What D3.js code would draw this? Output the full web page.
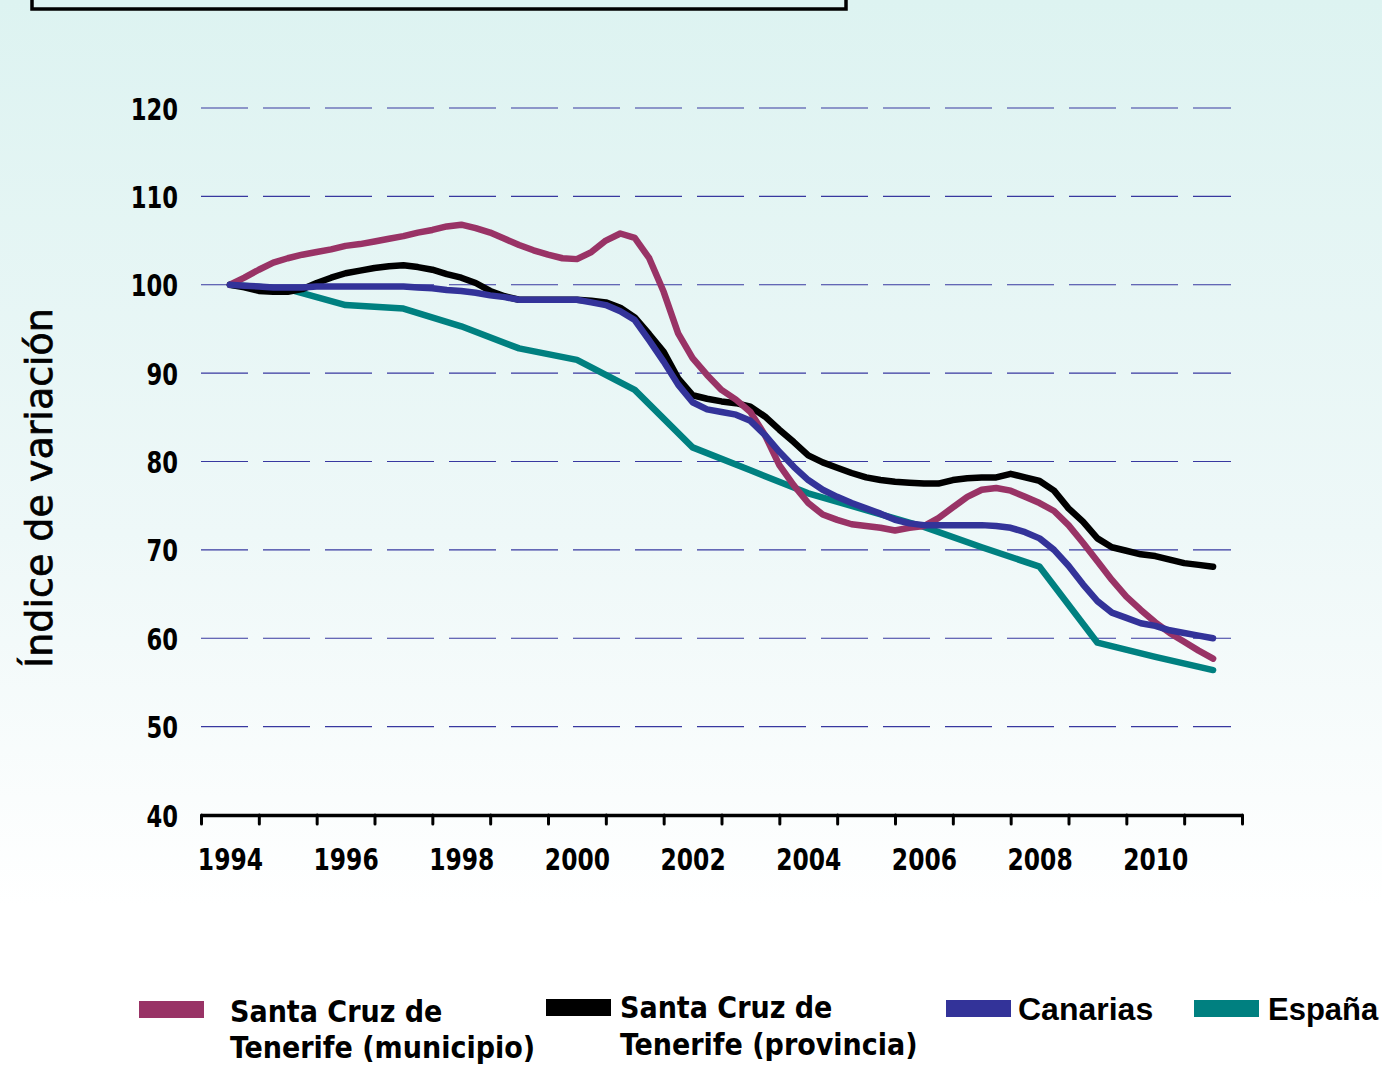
<!DOCTYPE html>
<html>
<head>
<meta charset="utf-8">
<script src="https://cdn.jsdelivr.net/npm/d3@7"></script>
<style>
  html, body { margin: 0; padding: 0; background: #ffffff; }
  svg { display: block; }
</style>
</head>
<body>
<svg id="chart" width="1382" height="1066"></svg>
<script>
// ---- data ----
const quarterStart = 1994;          // quarterly series, first point 1994.0
const municipio = [100,100.8,101.7,102.5,103.0,103.4,103.7,104.0,104.4,104.6,104.9,105.2,105.5,105.9,106.2,106.6,106.8,
  106.4,105.9,105.2,104.5,103.9,103.4,103.0,102.9,103.7,105.0,105.8,105.3,103.0,99.2,94.5,91.7,89.8,88.1,87.0,85.6,
  83.0,79.6,77.3,75.3,74.0,73.4,72.9,72.7,72.5,72.2,72.5,72.7,73.6,74.8,76.0,76.8,77.0,76.7,76.0,75.3,74.4,72.8,
  70.8,68.7,66.6,64.7,63.2,61.8,60.6,59.6,58.6,57.7];
const provincia = [100,99.7,99.3,99.2,99.2,99.5,100.2,100.8,101.3,101.6,101.9,102.1,102.2,102.0,101.7,101.2,100.8,
  100.2,99.3,98.7,98.3,98.3,98.3,98.3,98.3,98.2,98.0,97.4,96.3,94.4,92.4,89.4,87.5,87.1,86.8,86.6,86.2,
  85.1,83.6,82.2,80.7,79.9,79.3,78.7,78.2,77.9,77.7,77.6,77.5,77.5,77.9,78.1,78.2,78.2,78.6,78.2,77.8,76.7,74.7,
  73.2,71.3,70.3,69.9,69.5,69.3,68.9,68.5,68.3,68.1];
const canarias = [100,99.9,99.8,99.7,99.7,99.7,99.8,99.8,99.8,99.8,99.8,99.8,99.8,99.7,99.6,99.4,99.3,
  99.1,98.8,98.6,98.3,98.3,98.3,98.3,98.3,98.0,97.7,97.0,96.0,93.7,91.3,88.7,86.7,85.9,85.6,85.3,84.6,
  83.0,81.1,79.4,77.9,76.8,76.0,75.3,74.7,74.1,73.4,73.0,72.8,72.8,72.8,72.8,72.8,72.7,72.5,72.0,71.3,70.0,68.2,
  66.1,64.2,62.9,62.3,61.7,61.4,60.9,60.6,60.3,60.0];
const years = [1994,1995,1996,1997,1998,1999,2000,2001,2002,2003,2004,2005,2006,2007,2008,2009,2010,2011];
const espana = [100,99.5,97.7,97.3,95.3,92.8,91.5,88.1,81.6,79.0,76.4,74.5,72.6,70.3,68.1,59.5,57.9,56.4];

const xTickLabels = ["1994","1996","1998","2000","2002","2004","2006","2008","2010"];
const yTicks = [40,50,60,70,80,90,100,110,120];
const seriesNames = ["Santa Cruz de\nTenerife (municipio)", "Santa Cruz de\nTenerife (provincia)", "Canarias", "España"];
const seriesColors = ["#993366", "#000000", "#333399", "#008080"];

// ---- setup ----
const svg = d3.select("#chart");
const defs = svg.append("defs");
const grad = defs.append("linearGradient").attr("id", "bg").attr("x1", 0).attr("y1", 0).attr("x2", 0).attr("y2", 1);
grad.append("stop").attr("offset", "0%").attr("stop-color", "#ddf3f1");
grad.append("stop").attr("offset", "50%").attr("stop-color", "#eef8f8");
grad.append("stop").attr("offset", "85%").attr("stop-color", "#ffffff");
grad.append("stop").attr("offset", "100%").attr("stop-color", "#ffffff");
svg.append("rect").attr("width", 1382).attr("height", 1066).attr("fill", "url(#bg)");

// partial frame at top
svg.append("rect").attr("x", 32).attr("y", -40).attr("width", 814).attr("height", 49)
  .attr("fill", "none").attr("stroke", "#000").attr("stroke-width", 3.5);

const x = d3.scaleLinear().domain([1993.5, 2011.5]).range([201, 1242]);
const y = d3.scaleLinear().domain([40, 120]).range([815, 108]);

const numFont = "'DejaVu Sans Condensed','DejaVu Sans',sans-serif";
const SX = 0.84; // horizontal squeeze of the narrow lettering

// gridlines
svg.append("g").selectAll("line").data(yTicks.filter(d => d > 40)).join("line")
  .attr("x1", 201).attr("x2", 1231)
  .attr("y1", d => y(d)).attr("y2", d => y(d))
  .attr("stroke", "#3838a0").attr("stroke-width", 1.1)
  .attr("stroke-dasharray", "47,15");

// y labels (anchored at x = 178)
const yAxis = svg.append("g").attr("transform", "translate(178,0)")
  .call(d3.axisLeft(y).tickValues(yTicks).tickSize(0).tickPadding(0).tickFormat(d3.format("d")));
yAxis.select(".domain").remove();
yAxis.selectAll("text").attr("x", 0).attr("font-family", numFont).attr("font-weight", "bold")
  .attr("font-size", 30).attr("fill", "#000").attr("dy", "0.37em")
  .attr("transform", `scale(${SX},1)`);

// x axis line + ticks
const xAxis = svg.append("g").attr("transform", "translate(0,815)")
  .call(d3.axisBottom(x).tickValues(d3.range(1993.5, 2012, 1)).tickFormat("").tickSizeInner(9).tickSizeOuter(0));
xAxis.select(".domain").attr("stroke", "#000").attr("stroke-width", 3.5);
xAxis.selectAll(".tick line").attr("stroke", "#000").attr("stroke-width", 3).attr("stroke-linecap", "round");

// x labels
const xLab = svg.append("g").attr("transform", "translate(0,815)")
  .call(d3.axisBottom(x).tickValues(xTickLabels.map(Number)).tickFormat((d, i) => xTickLabels[i]).tickSize(0).tickPadding(33));
xLab.select(".domain").remove();
xLab.selectAll("text").attr("font-family", numFont).attr("font-weight", "bold")
  .attr("font-size", 31).attr("fill", "#000").attr("transform", `scale(${SX},1)`);

// y title
svg.append("text")
  .attr("transform", "translate(52,488) rotate(-90)")
  .attr("text-anchor", "middle")
  .attr("font-family", "'DejaVu Sans',sans-serif")
  .attr("font-size", 38).attr("fill", "#000")
  .attr("stroke", "#000").attr("stroke-width", 0.7)
  .text("Índice de variación");

// lines
const qTimes = municipio.map((d, i) => quarterStart + i / 4);
const series = [
  { t: qTimes, v: municipio },
  { t: qTimes, v: provincia },
  { t: qTimes, v: canarias },
  { t: years, v: espana }
];
const line = d3.line().x(d => x(d[0])).y(d => y(d[1]));
const order = [3, 1, 0, 2];
order.forEach(i => {
  const pts = series[i].t.map((t, k) => [t, series[i].v[k]]);
  svg.append("path").datum(pts)
    .attr("d", line).attr("fill", "none")
    .attr("stroke", seriesColors[i]).attr("stroke-width", 6.5)
    .attr("stroke-linejoin", "round").attr("stroke-linecap", "round");
});

// legend
const legend = [
  { sx: 139, sy: 1001, tx: 230, ty: [1022, 1058], fs: 30, sc: 1.0 },
  { sx: 546, sy: 999, tx: 620, ty: [1018, 1055], fs: 30, sc: 1.0 },
  { sx: 946, sy: 1000, tx: 1018, ty: [1020], fs: 32, sc: 1 },
  { sx: 1194, sy: 1000, tx: 1268, ty: [1020], fs: 31, sc: 1 }
];
legend.forEach((L, i) => {
  svg.append("rect").attr("x", L.sx).attr("y", L.sy).attr("width", 65).attr("height", 17)
    .attr("fill", seriesColors[i]);
  const lines = seriesNames[i].split("\n");
  lines.forEach((s, k) => {
    svg.append("text")
      .attr("transform", `translate(${L.tx},${L.ty[k]}) scale(${L.sc},1)`)
      .attr("font-family", i < 2 ? numFont : "'Liberation Sans','Arial',sans-serif")
      .attr("font-weight", "bold").attr("font-size", L.fs).attr("fill", "#000")
      .text(s);
  });
});
</script>
</body>
</html>
